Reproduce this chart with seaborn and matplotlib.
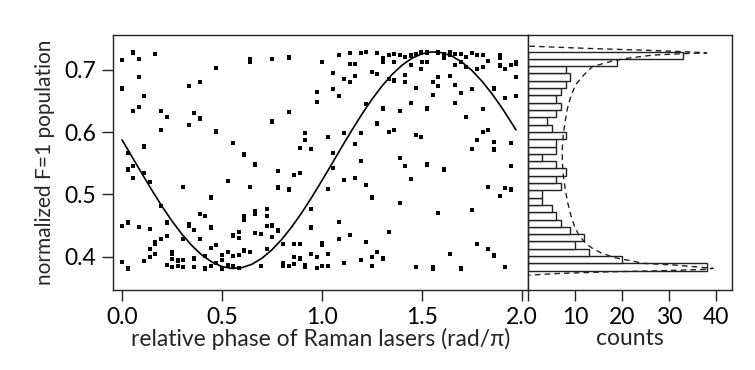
import numpy as np
import pandas as pd
import matplotlib
matplotlib.use("Agg")
import matplotlib.pyplot as plt
import seaborn as sns

# ---------------- data ----------------
phase = [
    0.000, 0.057, 0.085, 0.167, 0.085, 0.000, 0.112, 0.472, 0.057, 0.085,
    0.195, 0.223, 0.195, 0.335, 0.390, 0.362, 0.390, 0.335, 0.472, 0.112,
    0.028, 0.028, 0.057, 0.057, 0.112, 0.138, 0.195, 0.307, 0.445, 0.390,
    0.417, 0.000, 0.028, 0.085, 0.138, 0.223, 0.335, 0.335, 0.362, 0.445,
    0.167, 0.167, 0.195, 0.223, 0.307, 0.390, 0.138, 0.138, 0.167, 0.250,
    0.250, 0.445, 0.472, 0.000, 0.028, 0.112, 0.250, 0.278, 0.307, 0.362,
    0.223, 0.250, 0.278, 0.307, 0.362, 0.417, 0.445, 0.417, 0.472,
    # 0.5 - 1.0
    0.640, 0.640, 0.752, 0.833, 0.973, 0.973, 0.833, 0.752, 0.917, 0.917,
    0.890, 0.945, 0.557, 0.612, 0.667, 0.528, 0.778, 0.862, 0.890, 0.640,
    0.778, 0.833, 0.945, 0.612, 0.612, 0.667, 0.667, 0.723, 0.723, 0.945,
    0.723, 0.752, 0.778, 0.557, 0.585, 0.585, 0.667, 0.695, 0.752, 0.807,
    0.862, 0.890, 0.502, 0.502, 0.528, 0.557, 0.585, 0.612, 0.640, 0.723,
    0.502, 0.528, 0.557, 0.585, 0.695, 0.807, 0.807, 0.833, 0.862, 0.862,
    0.890, 0.917, 0.917, 0.945, 0.973, 0.973,
    # 1.0 - 1.5
    1.000, 1.083, 1.138, 1.193, 1.222, 1.277, 1.305, 1.305, 1.333, 1.362,
    1.362, 1.388, 1.417, 1.445, 1.472, 1.495, 1.138, 1.167, 1.055, 1.112,
    1.138, 1.167, 1.250, 1.277, 1.333, 1.362, 1.417, 1.417, 1.445, 1.495,
    1.055, 1.083, 1.472, 1.222, 1.305, 1.388, 1.445, 1.277, 1.028, 1.112,
    1.193, 1.333, 1.362, 1.472, 1.495, 1.167, 1.055, 1.193, 1.055, 1.388,
    1.417, 1.112, 1.167, 1.445, 1.028, 1.222, 1.250, 1.388, 1.083, 1.000,
    1.000, 1.083, 1.138, 1.222, 1.333, 1.028, 1.250, 1.277, 1.305, 1.000,
    1.028, 1.112, 1.193, 1.250, 1.472,
    # 1.5 - 2.0
    1.527, 1.582, 1.610, 1.610, 1.638, 1.638, 1.665, 1.693, 1.722, 1.748,
    1.777, 1.805, 1.888, 1.888, 1.527, 1.498, 1.665, 1.693, 1.722, 1.777,
    1.805, 1.832, 1.888, 1.915, 1.943, 1.972, 1.972, 1.972, 1.555, 1.582,
    1.582, 1.638, 1.665, 1.555, 1.693, 1.748, 1.860, 1.915, 1.972, 1.527,
    1.665, 1.805, 1.722, 1.805, 1.832, 1.777, 1.748, 1.860, 1.860, 1.943,
    1.527, 1.610, 1.943, 1.832, 1.888, 1.915, 1.943, 1.582, 1.748, 1.777,
    1.832, 1.860, 1.638, 1.555, 1.555, 1.693, 1.915,
]
population = [
    0.716, 0.728, 0.718, 0.726, 0.689, 0.670, 0.658, 0.703, 0.634, 0.640,
    0.634, 0.624, 0.604, 0.674, 0.681, 0.631, 0.622, 0.611, 0.601, 0.577,
    0.567, 0.540, 0.546, 0.526, 0.535, 0.520, 0.481, 0.512, 0.495, 0.468,
    0.466, 0.449, 0.455, 0.448, 0.444, 0.455, 0.453, 0.450, 0.443, 0.447,
    0.424, 0.420, 0.429, 0.433, 0.428, 0.428, 0.412, 0.400, 0.404, 0.408,
    0.405, 0.414, 0.419, 0.391, 0.381, 0.393, 0.396, 0.394, 0.395, 0.397,
    0.386, 0.383, 0.385, 0.383, 0.384, 0.381, 0.385, 0.401, 0.390,
    # 0.5 - 1.0
    0.718, 0.713, 0.718, 0.720, 0.664, 0.649, 0.632, 0.617, 0.599, 0.587,
    0.575, 0.573, 0.582, 0.564, 0.548, 0.521, 0.537, 0.531, 0.535, 0.512,
    0.511, 0.508, 0.477, 0.466, 0.459, 0.474, 0.468, 0.476, 0.466, 0.447,
    0.449, 0.450, 0.442, 0.434, 0.440, 0.430, 0.438, 0.437, 0.432, 0.421,
    0.420, 0.421, 0.403, 0.395, 0.407, 0.401, 0.403, 0.410, 0.407, 0.412,
    0.381, 0.387, 0.385, 0.382, 0.385, 0.390, 0.385, 0.385, 0.400, 0.388,
    0.397, 0.387, 0.383, 0.404, 0.400, 0.382,
    # 1.0 - 1.5
    0.713, 0.724, 0.727, 0.727, 0.729, 0.727, 0.719, 0.712, 0.724, 0.726,
    0.712, 0.724, 0.721, 0.723, 0.726, 0.728, 0.709, 0.709, 0.695, 0.685,
    0.681, 0.690, 0.696, 0.694, 0.686, 0.683, 0.692, 0.681, 0.708, 0.701,
    0.669, 0.658, 0.671, 0.645, 0.638, 0.634, 0.647, 0.614, 0.592, 0.598,
    0.598, 0.600, 0.604, 0.595, 0.592, 0.581, 0.566, 0.553, 0.543, 0.559,
    0.546, 0.523, 0.527, 0.525, 0.509, 0.515, 0.495, 0.486, 0.456, 0.422,
    0.419, 0.428, 0.435, 0.424, 0.439, 0.404, 0.400, 0.407, 0.397, 0.385,
    0.385, 0.390, 0.395, 0.385, 0.384,
    # 1.5 - 2.0
    0.728, 0.728, 0.725, 0.719, 0.728, 0.724, 0.726, 0.725, 0.721, 0.727,
    0.724, 0.724, 0.723, 0.720, 0.713, 0.713, 0.708, 0.712, 0.704, 0.701,
    0.704, 0.714, 0.707, 0.701, 0.708, 0.713, 0.710, 0.688, 0.680, 0.688,
    0.674, 0.690, 0.676, 0.659, 0.663, 0.669, 0.670, 0.655, 0.658, 0.638,
    0.647, 0.637, 0.624, 0.600, 0.603, 0.588, 0.573, 0.584, 0.572, 0.582,
    0.548, 0.540, 0.545, 0.512, 0.498, 0.510, 0.508, 0.470, 0.475, 0.421,
    0.413, 0.402, 0.404, 0.383, 0.381, 0.381, 0.383,
]

# sinusoidal fit curve
fit_phase = [0.00, 0.05, 0.10, 0.15, 0.20, 0.25, 0.30, 0.35, 0.40, 0.45,
             0.50, 0.55, 0.60, 0.65, 0.70, 0.75, 0.80, 0.85, 0.90, 0.95,
             1.00, 1.05, 1.10, 1.15, 1.20, 1.25, 1.30, 1.35, 1.40, 1.45,
             1.50, 1.55, 1.60, 1.65, 1.70, 1.75, 1.80, 1.85, 1.90, 1.95, 1.97]
fit_pop = [0.5876, 0.5605, 0.5332, 0.5065, 0.4809, 0.4572, 0.4359, 0.4175,
           0.4025, 0.3913, 0.3841, 0.3811, 0.3824, 0.3879, 0.3976, 0.4111,
           0.4282, 0.4484, 0.4712, 0.4961, 0.5224, 0.5495, 0.5768, 0.6035,
           0.6291, 0.6528, 0.6741, 0.6925, 0.7075, 0.7187, 0.7259, 0.7289,
           0.7276, 0.7221, 0.7124, 0.6989, 0.6818, 0.6616, 0.6388, 0.6139,
           0.6035]

# histogram of populations (bins from bottom to top)
hist_low, hist_high, n_bins = 0.3775, 0.7294, 30
hist_counts = [38, 20, 13, 10, 12, 9, 7, 6, 5, 3,
               3, 7, 6, 8, 6, 3, 6, 6, 8, 5,
               4, 6, 7, 6, 7, 8, 9, 8, 19, 33]

# expected distribution (dashed)
dist_counts = [0.3, 13.7, 24.2, 32.7, 38.0, 32.7, 26.4, 20.7, 17.9, 13.7,
               11.9, 10.1, 9.1, 8.4, 7.9, 7.5, 7.3, 7.3, 7.5, 7.9,
               8.4, 9.1, 9.8, 10.8, 12.3, 13.7, 15.8, 18.6, 24.7, 31.3,
               39.4, 37.6, 27.8, 17.2, 6.6, 0.3]
dist_pop = [0.7381, 0.7342, 0.7317, 0.7294, 0.7273, 0.7260, 0.7236, 0.7182,
            0.7141, 0.7053, 0.6920, 0.6759, 0.6571, 0.6384, 0.6169, 0.5955,
            0.5741, 0.5526, 0.5312, 0.5098, 0.4883, 0.4669, 0.4508, 0.4347,
            0.4214, 0.4133, 0.4053, 0.3982, 0.3892, 0.3865, 0.3812, 0.3796,
            0.3773, 0.3757, 0.3731, 0.3704]

x_ticks = [0.0, 0.5, 1.0, 1.5, 2.0]
x_ticklabels = ["0.0", "0.5", "1.0", "1.5", "2.0"]
y_ticks = [0.4, 0.5, 0.6, 0.7]
y_ticklabels = ["0.4", "0.5", "0.6", "0.7"]
c_ticks = [0, 10, 20, 30, 40]
c_ticklabels = ["", "10", "20", "30", "40"]

# ---------------- style ----------------
sns.set_theme(style="ticks")
plt.rcParams["font.family"] = ["Lato", "DejaVu Sans"]
plt.rcParams["axes.linewidth"] = 1.0
plt.rcParams["axes.edgecolor"] = "#222222"

W, H = 755, 370
fig = plt.figure(figsize=(W / 100, H / 100), dpi=100, facecolor="white")

ax = fig.add_axes([113 / W, 1 - 290 / H, 415 / W, 255 / H])
ax2 = fig.add_axes([528 / W, 1 - 290 / H, 204 / W, 255 / H])

n_pts = min(len(phase), len(population))
scatter_df = pd.DataFrame({"phase": phase[:n_pts], "pop": population[:n_pts]})
sns.scatterplot(data=scatter_df, x="phase", y="pop", ax=ax, marker="s",
                s=9, color="black", edgecolor="none", linewidth=0, legend=False)
fit_df = pd.DataFrame({"phase": fit_phase, "pop": fit_pop})
sns.lineplot(data=fit_df, x="phase", y="pop", ax=ax, color="black",
             lw=1.2, estimator=None, sort=False)

ylim = (0.3465, 0.756)
ax.set_xlim(-0.045, 2.03)
ax.set_ylim(*ylim)
ax.set_xticks(x_ticks)
ax.set_xticklabels(x_ticklabels)
ax.set_yticks(y_ticks)
ax.set_yticklabels(y_ticklabels)
for s in ax.spines.values():
    s.set_visible(True)
ax.tick_params(direction="out", length=8, width=1, labelsize=16.5, pad=4,
               colors="#222222", labelcolor="black")
ax.set_xlabel("relative phase of Raman lasers (rad/π)", fontsize=16.5, labelpad=0)
ax.set_ylabel("normalized F=1 population", fontsize=15, labelpad=7)

bin_width = (hist_high - hist_low) / n_bins
centers = [hist_low + (i + 0.5) * bin_width for i in range(n_bins)]
hist_df = pd.DataFrame({"pop": centers, "count": hist_counts})
sns.histplot(data=hist_df, y="pop", weights="count", bins=n_bins,
             binrange=(hist_low, hist_high), ax=ax2,
             color="white", edgecolor="#222222", linewidth=1.0, alpha=1.0)
dist_df = pd.DataFrame({"count": dist_counts, "pop": dist_pop})
sns.lineplot(data=dist_df, x="count", y="pop", ax=ax2, color="#222222",
             lw=1.0, ls=(0, (4, 3)), estimator=None, sort=False)
ax2.set_ylim(*ylim)
ax2.set_xlim(0, 43.4)
ax2.set_xticks(c_ticks)
ax2.set_xticklabels(c_ticklabels)
ax2.set_yticks([])
ax2.set_ylabel("")
for s in ax2.spines.values():
    s.set_visible(True)
ax2.tick_params(direction="out", length=8, width=1, labelsize=16.5, pad=4,
                colors="#222222", labelcolor="black")
ax2.set_xlabel("counts", fontsize=16.5, labelpad=0)

fig.savefig("out.png", dpi=100, facecolor="white")
